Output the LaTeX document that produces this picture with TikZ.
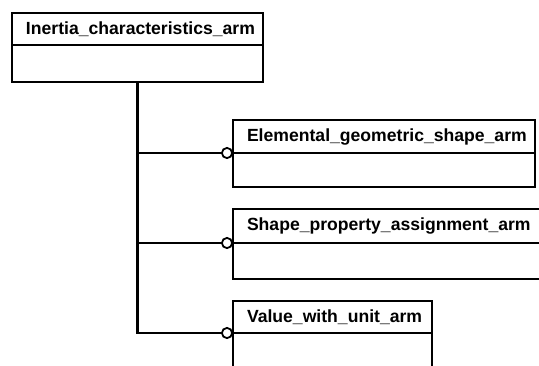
\documentclass[tikz,border=0pt]{standalone}
\usepackage{fontspec}
\newfontfamily\armfont{Liberation Sans}
\usepackage{tikz}
\usetikzlibrary{arrows.meta, positioning}

\begin{document}
\begin{tikzpicture}[
    x=1pt, y=-1pt,
    hdr/.style={rectangle, draw, line width=2.2pt, outer sep=0pt, anchor=north west, inner xsep=14pt, inner ysep=0pt, text width=#1, align=left, minimum height=33pt, font=\armfont\bfseries\fontsize{17.6}{19}\selectfont},
    link/.style={-{Circle[open, length=12pt, width=12pt, line width=1.8pt]}, line width=2.2pt}
]
    \useasboundingbox (0,0) rectangle (539,365);
    \clip (0,0) rectangle (539,365);
    \fill[white] (0,0) rectangle (539,365);

    % entity boxes
    \node [hdr=223pt, minimum height=32pt] (inertia) at (12,13) {Inertia\_characteristics\_arm};
    \node [rectangle, draw, line width=2.2pt, outer sep=0pt, minimum width=251pt, minimum height=37pt, below=0pt of inertia] (inertiabody) {};

    \node [hdr=274pt] (elemental) at (233,120) {Elemental\_geometric\_shape\_arm};
    \node [rectangle, draw, line width=2.2pt, outer sep=0pt, minimum width=302pt, minimum height=34pt, below=0pt of elemental] (elementalbody) {};

    \node [hdr=289pt, minimum height=34pt] (shape) at (233,209) {Shape\_property\_assignment\_arm};
    \node [rectangle, draw, line width=2.2pt, outer sep=0pt, minimum width=317pt, minimum height=36pt, below=0pt of shape] (shapebody) {};

    \node [hdr=171pt, minimum height=32pt] (value) at (233,301) {Value\_with\_unit\_arm};
    \node [rectangle, draw, line width=2.2pt, outer sep=0pt, minimum width=199pt, minimum height=40pt, below=0pt of value] (valuebody) {};

    % relationships
    \draw [link] (inertiabody.south) |- (value.south west);
    \draw [link] (inertiabody.south |- elemental.south west) -- (elemental.south west);
    \draw [link] (inertiabody.south |- shape.south west) -- (shape.south west);
\end{tikzpicture}
\end{document}
